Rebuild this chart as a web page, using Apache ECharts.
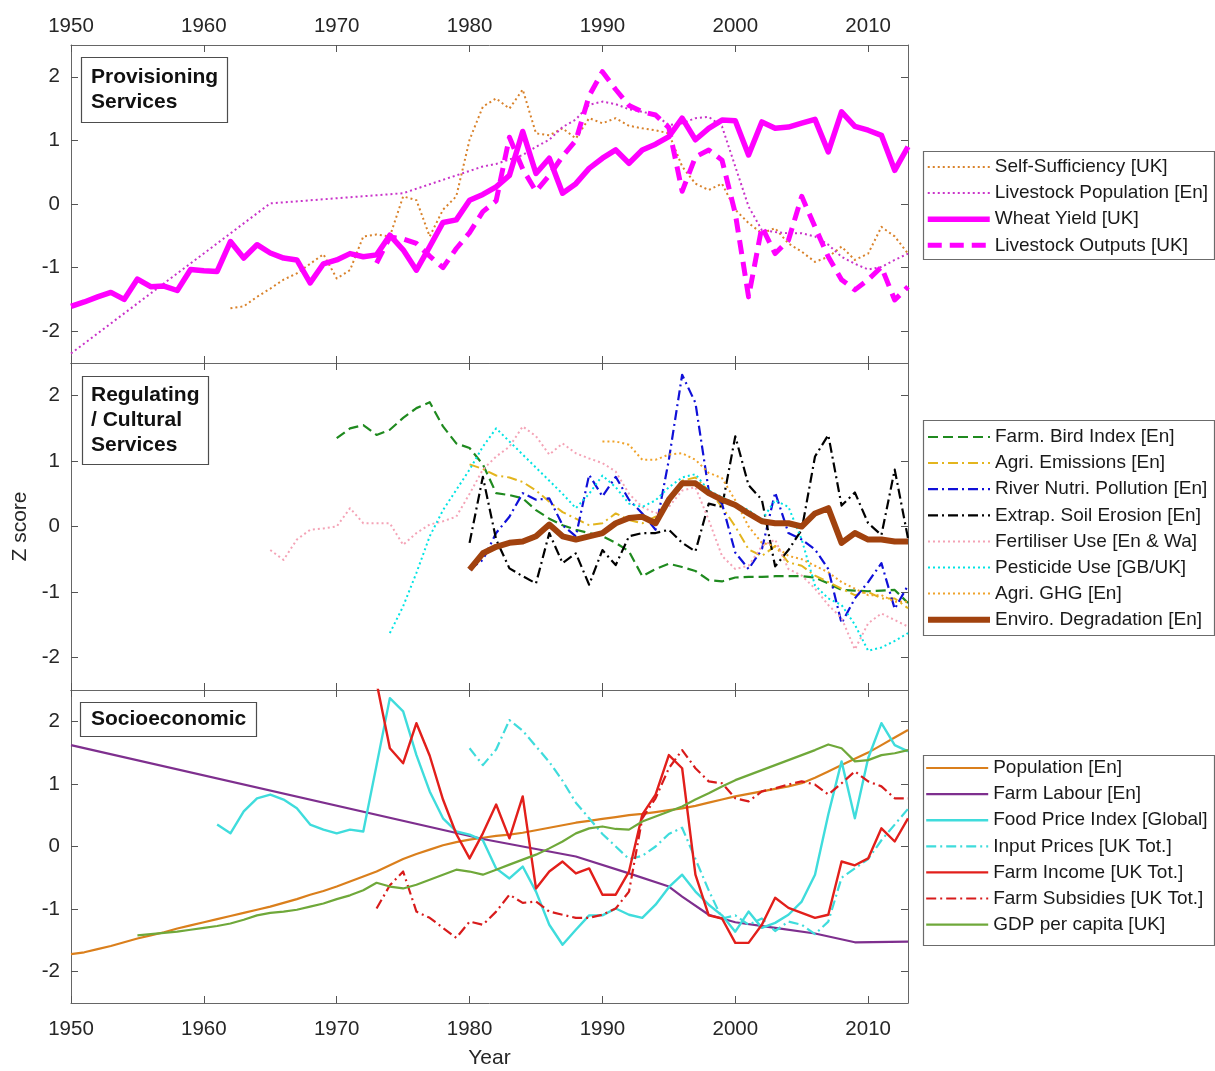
<!DOCTYPE html>
<html>
<head>
<meta charset="utf-8">
<script src="https://cdn.jsdelivr.net/npm/echarts@6.0.0/dist/echarts.min.js"></script>
<style>
  html, body { margin: 0; padding: 0; background: #ffffff; }
  #chart { width: 1215px; height: 1071px; }
</style>
</head>
<body>
<div id="chart"></div>
<script>
// ---- Axis ticks ----
const yearTicks = [1950, 1960, 1970, 1980, 1990, 2000, 2010];
const zTicks = [-2, -1, 0, 1, 2];

// ---- Provisioning services (z scores) ----
const selfSufficiencyStart = 1962;
const selfSufficiency = [-1.64, -1.61, -1.46, -1.33, -1.19, -1.09, -0.94, -0.79, -1.17, -1.04,
  -0.51, -0.48, -0.51, 0.12, 0.06, -0.51, -0.09, 0.12, 1.01, 1.53,
  1.66, 1.50, 1.80, 1.11, 1.08, 1.19, 1.03, 1.35, 1.27, 1.35,
  1.23, 1.19, 1.16, 1.11, 0.59, 0.32, 0.22, 0.32, -0.09, -0.30,
  -0.46, -0.38, -0.62, -0.75, -0.91, -0.83, -0.67, -0.88, -0.78, -0.36,
  -0.51, -0.78];

const livestockPopEarly = [[1950, -2.35], [1965, 0.01], [1975, 0.17]];
const livestockPopStart = 1981;
const livestockPop = [0.59, 0.63, 0.70, 0.77, 0.90, 1.01, 1.21, 1.33, 1.56, 1.61,
  1.57, 1.49, 1.45, 1.40, 1.24, 1.27, 1.35, 1.37, 1.22, 0.59,
  -0.04, -0.41, -0.44, -0.46, -0.46, -0.51, -0.64, -0.83, -0.94, -1.03,
  -0.99, -0.88, -0.78];

const wheatYieldStart = 1950;
const wheatYield = [-1.61, -1.54, -1.46, -1.39, -1.50, -1.18, -1.30, -1.29, -1.36, -1.03,
  -1.05, -1.06, -0.59, -0.85, -0.64, -0.77, -0.85, -0.88, -1.24, -0.94,
  -0.88, -0.78, -0.83, -0.80, -0.49, -0.72, -1.04, -0.67, -0.29, -0.25,
  0.06, 0.15, 0.27, 0.45, 1.14, 0.48, 0.72, 0.17, 0.32, 0.56,
  0.72, 0.85, 0.64, 0.85, 0.94, 1.06, 1.35, 1.01, 1.19, 1.32,
  1.31, 0.77, 1.29, 1.19, 1.21, 1.27, 1.33, 0.82, 1.45, 1.22,
  1.16, 1.08, 0.53, 0.90];

const livestockOutStart = 1973;
const livestockOut = [-0.93, -0.52, -0.55, -0.62, -0.82, -1.00, -0.70, -0.45, -0.12, 0.05,
  1.05, 0.55, 0.20, 0.45, 0.75, 1.00, 1.70, 2.08, 1.80, 1.55,
  1.45, 1.40, 1.20, 0.20, 0.74, 0.85, 0.69, -0.15, -1.46, -0.36,
  -0.78, -0.57, 0.12, -0.36, -0.83, -1.19, -1.35, -1.19, -0.99, -1.51,
  -1.30];

// ---- Regulating / cultural services ----
const farmBirdStart = 1970;
const farmBird = [1.35, 1.50, 1.55, 1.40, 1.48, 1.66, 1.81, 1.90, 1.53, 1.27,
  1.20, 0.95, 0.51, 0.48, 0.43, 0.25, 0.12, 0.02, -0.05, -0.10,
  -0.15, -0.25, -0.38, -0.76, -0.65, -0.57, -0.62, -0.68, -0.82, -0.84,
  -0.78, -0.77, -0.77, -0.76, -0.76, -0.76, -0.78, -0.87, -0.97, -0.98,
  -0.99, -0.98, -0.97, -1.17];

const agriEmissionsStart = 1980;
const agriEmissions = [0.95, 0.88, 0.78, 0.75, 0.68, 0.55, 0.38, 0.22, 0.12, 0.02,
  0.05, 0.20, 0.10, 0.05, 0.15, 0.35, 0.70, 0.75, 0.55, 0.30,
  0.00, -0.35, -0.45, -0.30, -0.55, -0.60, -0.75, -0.85, -0.95, -1.05,
  -1.00, -1.10, -1.10, -1.25];

const riverPollutionStart = 1980;
const riverPollution = [-0.66, -0.51, -0.10, 0.15, 0.51, 0.41, 0.43, 0.02, -0.15, 0.79,
  0.46, 0.76, 0.41, 0.20, -0.05, 1.02, 2.32, 1.89, 0.55, 0.35,
  -0.40, -0.65, -0.35, 0.52, -0.10, -0.20, -0.35, -0.65, -1.48, -1.10,
  -0.85, -0.56, -1.26, -0.90];

const soilErosionStart = 1980;
const soilErosion = [-0.25, 0.76, -0.20, -0.64, -0.76, -0.87, -0.10, -0.56, -0.41, -0.89,
  -0.36, -0.59, -0.15, -0.10, -0.10, -0.05, -0.25, -0.38, 0.35, 0.30,
  1.38, 0.63, 0.41, -0.61, -0.36, -0.05, 1.07, 1.40, 0.32, 0.52,
  0.05, -0.13, 0.87, -0.18];

const fertiliserStart = 1965;
const fertiliser = [-0.36, -0.51, -0.20, -0.05, -0.03, 0.00, 0.28, 0.05, 0.05, 0.05,
  -0.28, -0.10, 0.03, 0.08, 0.15, 0.50, 0.87, 1.07, 1.22, 1.53,
  1.38, 1.10, 1.27, 1.12, 1.04, 0.97, 0.84, 0.50, 0.30, 0.20,
  0.30, 0.55, 0.60, 0.10, -0.45, -0.65, -0.60, -0.30, -0.20, -0.65,
  -0.75, -0.95, -1.20, -1.40, -1.88, -1.48, -1.33, -1.43, -1.53];

const pesticideStart = 1974;
const pesticide = [-1.63, -1.22, -0.71, -0.15, 0.25, 0.56, 0.87, 1.22, 1.50, 1.30,
  1.10, 0.90, 0.70, 0.50, 0.28, 0.50, 0.78, 0.60, 0.35, 0.30,
  0.40, 0.60, 0.75, 0.80, 0.55, 0.45, 0.35, 0.25, 0.10, 0.40,
  0.30, -0.20, -0.90, -1.10, -1.20, -1.50, -1.90, -1.85, -1.75, -1.63];

const agriGhgStart = 1990;
const agriGhg = [1.30, 1.30, 1.25, 1.02, 1.02, 1.10, 1.12, 1.02, 0.82, 0.74,
  0.40, 0.00, -0.25, -0.30, -0.45, -0.50, -0.60, -0.70, -0.85, -0.95,
  -1.05, -1.05, -1.15, -1.15];

const enviroDegStart = 1980;
const enviroDeg = [-0.66, -0.41, -0.31, -0.25, -0.23, -0.15, 0.03, -0.15, -0.20, -0.15,
  -0.10, 0.05, 0.13, 0.15, 0.05, 0.41, 0.66, 0.66, 0.51, 0.41,
  0.33, 0.20, 0.08, 0.05, 0.05, 0.00, 0.20, 0.28, -0.25, -0.10,
  -0.20, -0.20, -0.23, -0.23];

// ---- Socioeconomic ----
const populationStart = 1950;
const population = [-1.72, -1.69, -1.64, -1.59, -1.53, -1.47, -1.42, -1.37, -1.31, -1.26,
  -1.21, -1.16, -1.11, -1.06, -1.01, -0.96, -0.90, -0.84, -0.77, -0.71,
  -0.64, -0.56, -0.48, -0.40, -0.30, -0.20, -0.12, -0.05, 0.02, 0.07,
  0.11, 0.14, 0.17, 0.19, 0.22, 0.26, 0.30, 0.34, 0.38, 0.41,
  0.44, 0.47, 0.50, 0.52, 0.55, 0.58, 0.61, 0.65, 0.70, 0.75,
  0.80, 0.84, 0.88, 0.92, 0.96, 1.01, 1.10, 1.20, 1.30, 1.40,
  1.50, 1.62, 1.74, 1.86];

const farmLabour = [[1950, 1.62], [1981, 0.12], [1988, -0.16], [1992, -0.43], [1995, -0.64],
  [1996, -0.80], [1998, -1.09], [2000, -1.21], [2003, -1.30], [2006, -1.39],
  [2009, -1.53], [2013, -1.52]];

const foodPriceStart = 1961;
const foodPrice = [0.35, 0.21, 0.56, 0.77, 0.83, 0.75, 0.61, 0.35, 0.27, 0.21,
  0.27, 0.24, 1.30, 2.37, 2.16, 1.46, 0.88, 0.45, 0.24, 0.19,
  0.10, -0.35, -0.51, -0.32, -0.72, -1.25, -1.57, -1.33, -1.10, -1.10,
  -0.99, -1.09, -1.14, -0.93, -0.65, -0.45, -0.72, -0.93, -1.10, -1.36,
  -1.04, -1.30, -1.22, -1.09, -0.88, -0.45, 0.51, 1.36, 0.45, 1.41,
  1.97, 1.62, 1.52];

const inputPricesStart = 1980;
const inputPrices = [1.57, 1.30, 1.55, 2.02, 1.85, 1.60, 1.35, 1.05, 0.70, 0.45,
  0.20, 0.00, -0.20, -0.15, 0.00, 0.20, 0.30, -0.20, -0.70, -1.15,
  -1.10, -1.25, -1.15, -1.35, -1.20, -1.25, -1.40, -1.20, -0.50, -0.35,
  -0.20, 0.10, 0.35, 0.60];

const farmIncomeStart = 1973;
const farmIncome = [2.62, 1.57, 1.33, 1.97, 1.45, 0.75, 0.20, -0.19, 0.21, 0.67,
  0.13, 0.80, -0.67, -0.40, -0.24, -0.43, -0.35, -0.77, -0.77, -0.40,
  0.51, 0.83, 1.46, 1.25, -0.45, -1.10, -1.15, -1.54, -1.54, -1.25,
  -0.82, -0.98, -1.06, -1.14, -1.09, -0.24, -0.30, -0.19, 0.29, 0.08,
  0.45];

const farmSubsidiesStart = 1973;
const farmSubsidies = [-0.99, -0.62, -0.40, -1.04, -1.14, -1.30, -1.46, -1.20, -1.25, -1.04,
  -0.77, -0.90, -0.88, -1.04, -1.09, -1.14, -1.14, -1.09, -0.99, -0.72,
  0.45, 0.77, 1.25, 1.54, 1.25, 1.04, 1.01, 0.77, 0.72, 0.88,
  0.93, 0.99, 1.04, 0.99, 0.83, 1.01, 1.20, 1.04, 0.96, 0.77,
  0.77];

const gdpStart = 1955;
const gdp = [-1.42, -1.40, -1.38, -1.36, -1.33, -1.30, -1.27, -1.23, -1.17, -1.10,
  -1.06, -1.04, -1.01, -0.96, -0.91, -0.84, -0.78, -0.70, -0.58, -0.64,
  -0.67, -0.61, -0.53, -0.45, -0.37, -0.40, -0.45, -0.37, -0.29, -0.21,
  -0.13, -0.03, 0.08, 0.21, 0.29, 0.32, 0.28, 0.27, 0.40, 0.48,
  0.56, 0.64, 0.75, 0.85, 0.96, 1.06, 1.14, 1.22, 1.30, 1.38,
  1.46, 1.54, 1.63, 1.57, 1.36, 1.38, 1.46, 1.49, 1.54];

// ---- Helpers ----
const FONT = '"Liberation Sans", Arial, Helvetica, sans-serif';
const annual = (start, vals) => vals.map((v, i) => [start + i, v]);

const DOT = [2, 3];
const DASH = [10, 5];
const DASHDOT = [10, 4, 2, 4];

function line(name, data, panel, color, width, dash) {
  return {
    type: 'line', name, data,
    xAxisIndex: panel * 2, yAxisIndex: panel * 2,
    symbol: 'none', showSymbol: false, connectNulls: true,
    color,
    lineStyle: { color, width, type: dash, cap: 'butt', join: 'round' },
    emphasis: { disabled: true },
    animation: false
  };
}

const grids = [
  { left: 71, width: 837, top: 45, height: 318, outerBoundsMode: 'none', containLabel: false },
  { left: 71, width: 837, top: 363, height: 327, outerBoundsMode: 'none', containLabel: false },
  { left: 71, width: 837, top: 690, height: 313, outerBoundsMode: 'none', containLabel: false }
];

const frame = { show: true, onZero: false, lineStyle: { color: '#666666', width: 1 } };
const tickStyle = { color: '#555555', width: 1 };
const labelFont = 20.5;

function xAxis(grid, pos, showLabel, extra) {
  return Object.assign({
    type: 'value', gridIndex: grid, position: pos, min: 1950, max: 2013,
    axisLine: frame,
    axisTick: { show: true, inside: true, length: 7, customValues: yearTicks, lineStyle: tickStyle },
    axisLabel: { show: showLabel, customValues: yearTicks, margin: pos === 'top' ? 8 : 16,
      fontSize: labelFont, color: '#262626', fontFamily: FONT, formatter: v => String(v) },
    splitLine: { show: false }
  }, extra || {});
}

function yAxis(grid, pos, showLabel, extra) {
  return Object.assign({
    type: 'value', gridIndex: grid, position: pos, min: -2.5, max: 2.5,
    axisLine: frame,
    axisTick: { show: true, inside: true, length: 7, customValues: zTicks, lineStyle: tickStyle },
    axisLabel: { show: showLabel, customValues: zTicks, margin: 11, fontSize: labelFont,
      color: '#262626', fontFamily: FONT, formatter: v => String(v) },
    splitLine: { show: false }
  }, extra || {});
}

const boxText = { fontSize: 21, fontWeight: 'bold', lineHeight: 25, color: '#111111', fontFamily: FONT };
const legendText = { fontSize: 19, lineHeight: 20, color: '#1a1a1a', fontFamily: FONT };

function legend(names, top) {
  return {
    data: names, orient: 'vertical', left: 925, top,
    padding: 0, itemWidth: 62, itemHeight: 14, itemGap: 6.1,
    selectedMode: false, textStyle: legendText,
    itemStyle: { opacity: 0 },
    lineStyle: { width: 'inherit' }
  };
}

const topNames = ['Self-Sufficiency [UK]', 'Livestock Population [En]', 'Wheat Yield [UK]', 'Livestock Outputs [UK]'];
const midNames = ['Farm. Bird Index [En]', 'Agri. Emissions [En]', 'River Nutri. Pollution [En]',
  'Extrap. Soil Erosion [En]', 'Fertiliser Use [En & Wa]', 'Pesticide Use [GB/UK]',
  'Agri. GHG [En]', 'Enviro. Degradation [En]'];
const botNames = ['Population [En]', 'Farm Labour [En]', 'Food Price Index [Global]',
  'Input Prices [UK Tot.]', 'Farm Income [UK Tot.]', 'Farm Subsidies [UK Tot.]', 'GDP per capita [UK]'];

const series = [
  line(topNames[0], annual(selfSufficiencyStart, selfSufficiency), 0, '#D9822B', 2, DOT),
  line(topNames[1], livestockPopEarly.concat(annual(livestockPopStart, livestockPop)), 0, '#C933C9', 2, DOT),
  line(topNames[2], annual(wheatYieldStart, wheatYield), 0, '#FF00FF', 5.5, 'solid'),
  line(topNames[3], annual(livestockOutStart, livestockOut), 0, '#FF00FF', 5, [14, 8]),

  line(midNames[0], annual(farmBirdStart, farmBird), 1, '#1F8A1F', 2.2, DASH),
  line(midNames[1], annual(agriEmissionsStart, agriEmissions), 1, '#E3B51E', 2, DASHDOT),
  line(midNames[2], annual(riverPollutionStart, riverPollution), 1, '#1010D8', 2.2, DASHDOT),
  line(midNames[3], annual(soilErosionStart, soilErosion), 1, '#000000', 2.2, DASHDOT),
  line(midNames[4], annual(fertiliserStart, fertiliser), 1, '#F4A3B6', 2, DOT),
  line(midNames[5], annual(pesticideStart, pesticide), 1, '#00E3E3', 2, DOT),
  line(midNames[6], annual(agriGhgStart, agriGhg), 1, '#F0A32A', 2, DOT),
  line(midNames[7], annual(enviroDegStart, enviroDeg), 1, '#A1420E', 6, 'solid'),

  line(botNames[0], annual(populationStart, population), 2, '#DA7F1C', 2.2, 'solid'),
  line(botNames[1], farmLabour, 2, '#7E2F8E', 2.2, 'solid'),
  line(botNames[2], annual(foodPriceStart, foodPrice), 2, '#3FDCDC', 2.4, 'solid'),
  line(botNames[3], annual(inputPricesStart, inputPrices), 2, '#3FDCDC', 2.2, DASHDOT),
  line(botNames[4], annual(farmIncomeStart, farmIncome), 2, '#E21F1B', 2.4, 'solid'),
  line(botNames[5], annual(farmSubsidiesStart, farmSubsidies), 2, '#D81B1B', 2.2, DASHDOT),
  line(botNames[6], annual(gdpStart, gdp), 2, '#6FA83A', 2.2, 'solid')
];

const option = {
  backgroundColor: '#ffffff',
  animation: false,
  grid: grids,
  xAxis: [
    xAxis(0, 'bottom', false), xAxis(0, 'top', true),
    xAxis(1, 'bottom', false), xAxis(1, 'top', false),
    xAxis(2, 'bottom', true, {
      name: 'Year', nameLocation: 'middle', nameGap: 45,
      nameTextStyle: { fontSize: 21, color: '#262626', fontFamily: FONT }
    }),
    xAxis(2, 'top', false)
  ],
  yAxis: [
    yAxis(0, 'left', true), yAxis(0, 'right', false),
    yAxis(1, 'left', true, {
      name: 'Z score', nameLocation: 'middle', nameGap: 38,
      nameTextStyle: { fontSize: 21, color: '#262626', fontFamily: FONT }
    }),
    yAxis(1, 'right', false),
    yAxis(2, 'left', true), yAxis(2, 'right', false)
  ],
  title: [
    { text: 'Provisioning\nServices', left: 81, top: 57, padding: [8, 10],
      borderColor: '#4d4d4d', borderWidth: 1.2, backgroundColor: '#ffffff', textStyle: boxText },
    { text: 'Regulating\n/ Cultural\nServices', left: 82, top: 376, padding: [7, 9],
      borderColor: '#4d4d4d', borderWidth: 1.2, backgroundColor: '#ffffff', textStyle: boxText },
    { text: 'Socioeconomic', left: 80, top: 702, padding: [5, 11],
      borderColor: '#4d4d4d', borderWidth: 1.2, backgroundColor: '#ffffff', textStyle: boxText }
  ],
  legend: [
    legend(topNames, 157),
    legend(midNames, 427),
    legend(botNames, 758)
  ],
  graphic: [
    { type: 'rect', left: 921, top: 149, shape: { width: 291, height: 108 },
      style: { fill: 'none', stroke: '#6b6b6b', lineWidth: 1.2 }, silent: true },
    { type: 'rect', left: 921, top: 418, shape: { width: 291, height: 215 },
      style: { fill: 'none', stroke: '#6b6b6b', lineWidth: 1.2 }, silent: true },
    { type: 'rect', left: 921, top: 753, shape: { width: 291, height: 190 },
      style: { fill: 'none', stroke: '#6b6b6b', lineWidth: 1.2 }, silent: true }
  ],
  series
};

const chart = echarts.init(document.getElementById('chart'), null, { renderer: 'canvas' });
chart.setOption(option);
</script>
</body>
</html>
